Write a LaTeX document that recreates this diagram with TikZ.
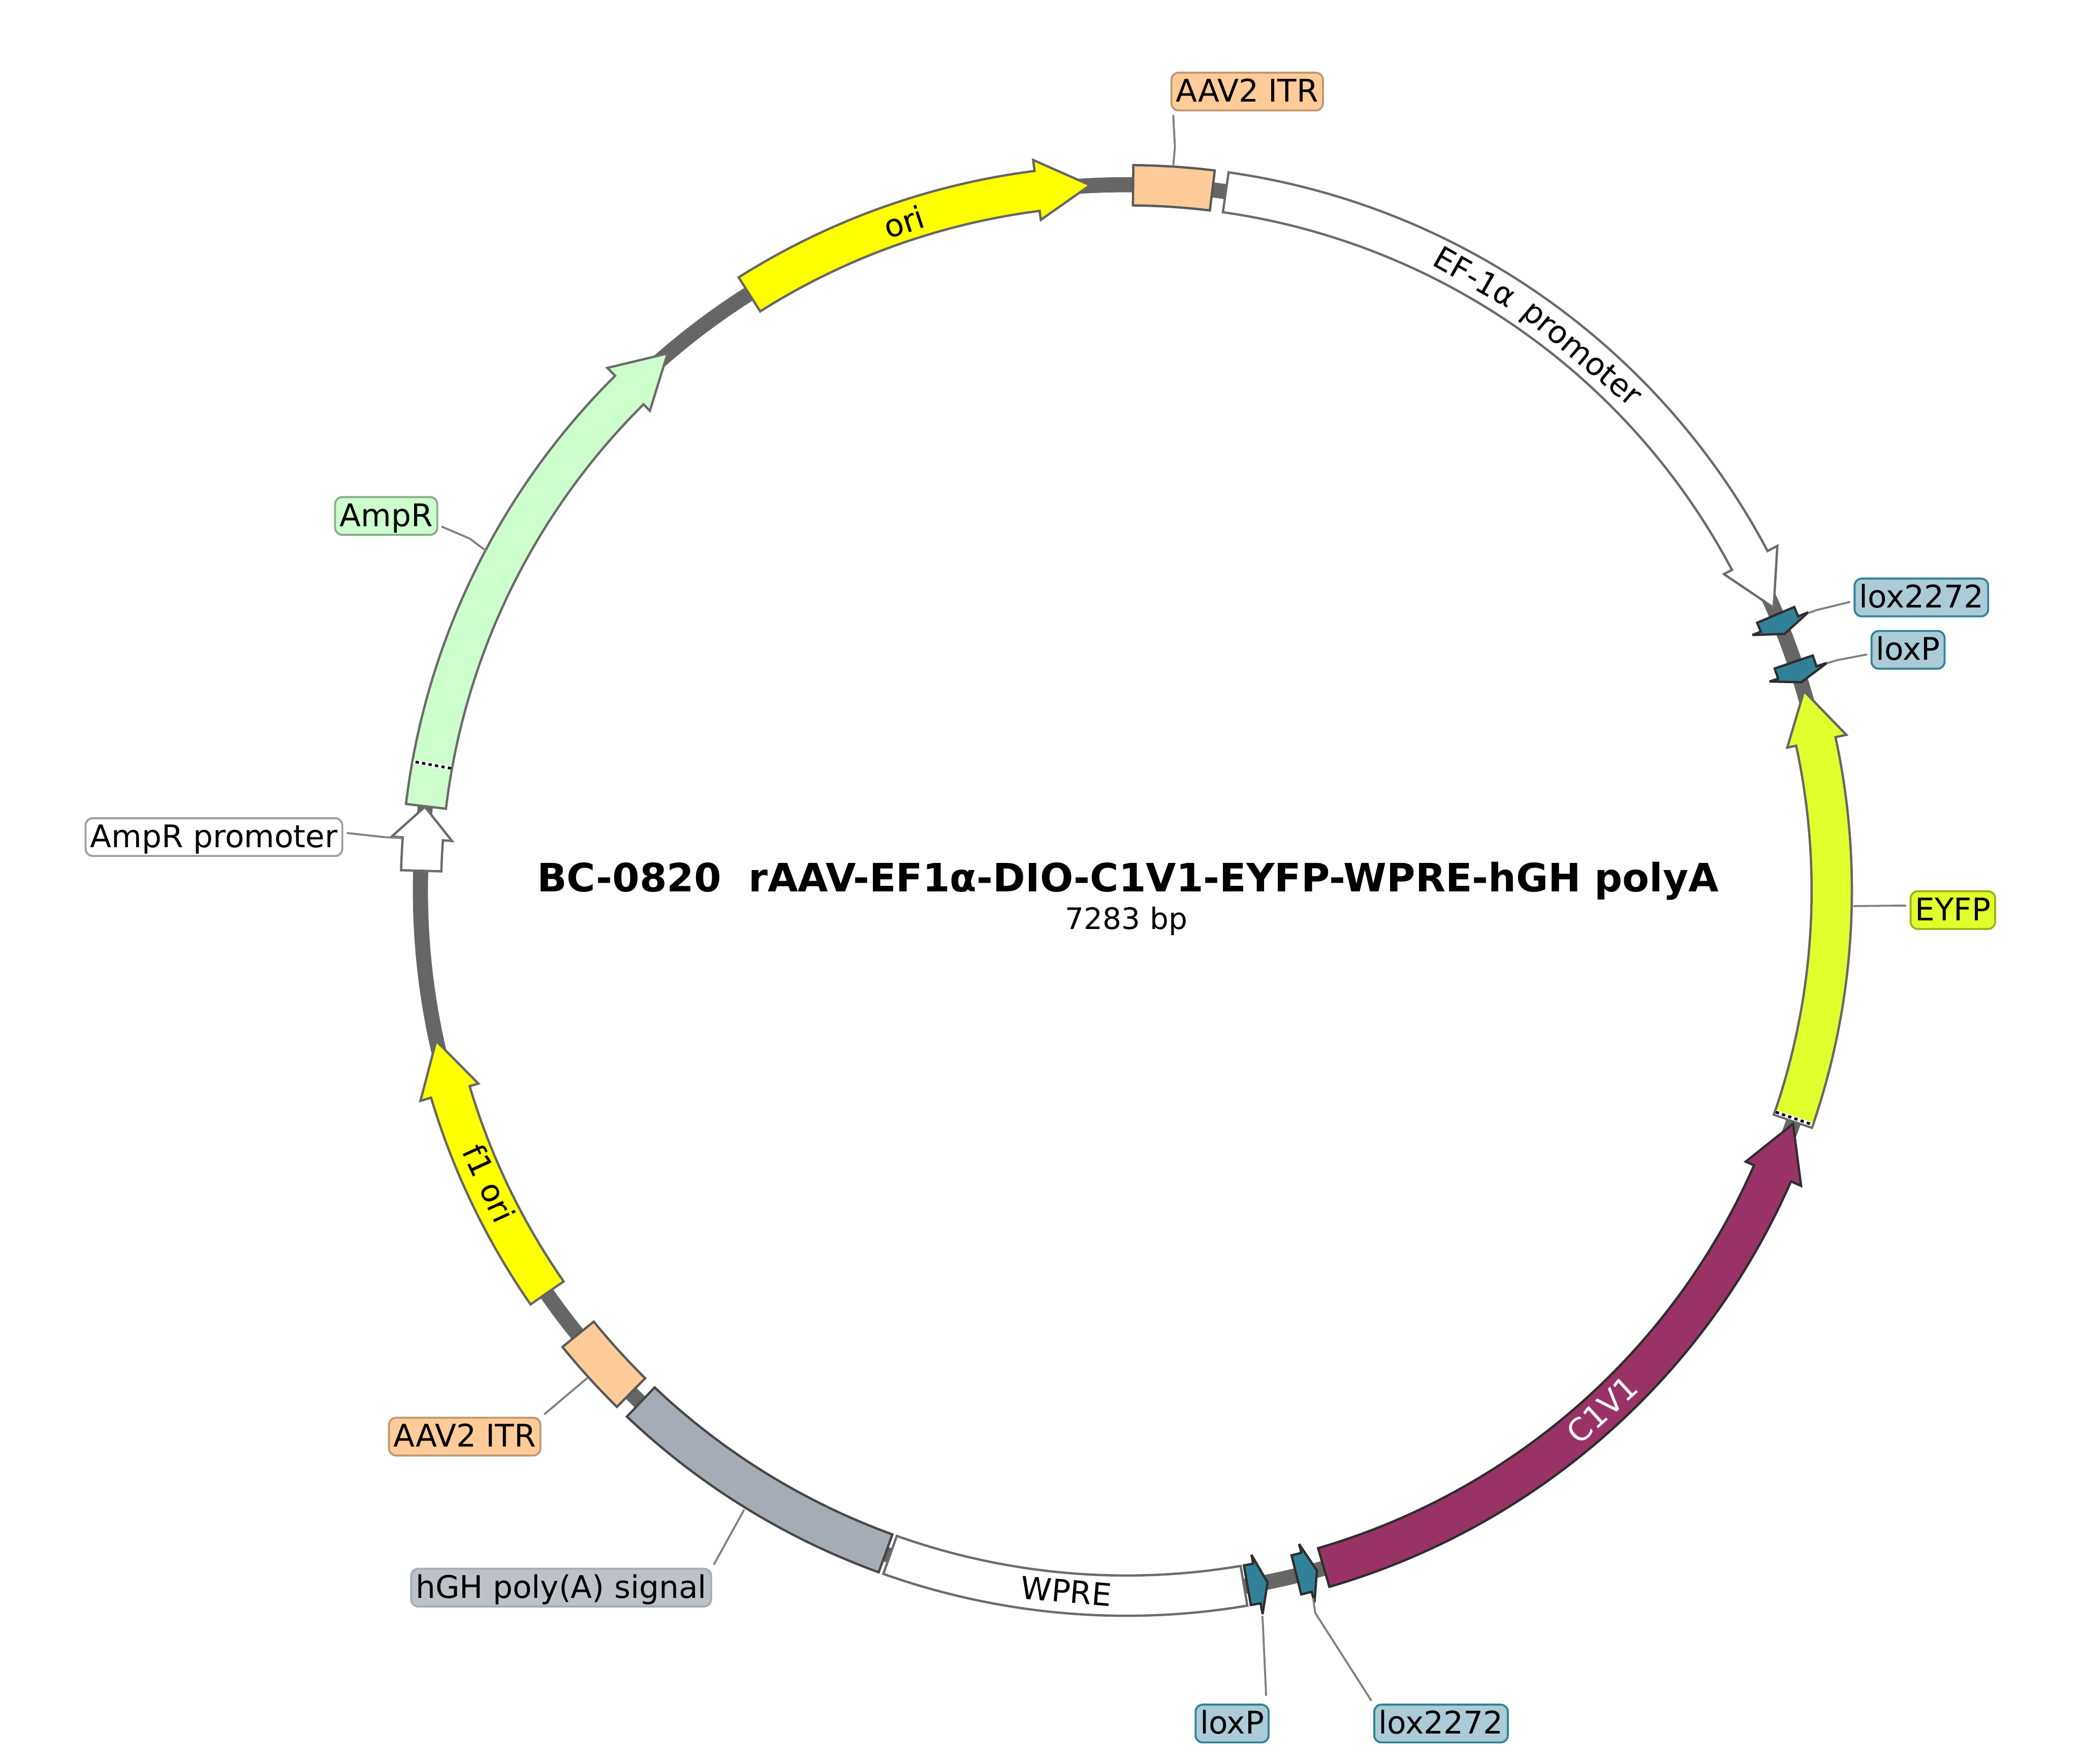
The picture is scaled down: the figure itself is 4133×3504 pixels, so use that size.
\documentclass[tikz,border=0pt]{standalone}
\usepackage{fontspec}
\usepackage{xcolor}
\usepackage{tikz}
\setmainfont{DejaVu Sans}

\definecolor{ringgray}{HTML}{666666}
\definecolor{leadergray}{HTML}{808080}
\definecolor{orifill}{RGB}{255,255,0}
\definecolor{itrfill}{HTML}{FFCC99}
\definecolor{itredge}{HTML}{BF9973}
\definecolor{loxfill}{HTML}{318299}
\definecolor{loxlabel}{HTML}{ABCCD6}
\definecolor{eyfpfill}{HTML}{E1FF2D}
\definecolor{eyfpedge}{HTML}{A0B020}
\definecolor{conefill}{HTML}{993366}
\definecolor{polyfill}{HTML}{A6ACB5}
\definecolor{polylabel}{HTML}{BDC2C9}
\definecolor{ampfill}{HTML}{CCFFCC}
\definecolor{ampedge}{HTML}{8AAD8A}

\newcommand{\labelfont}{\fontsize{17.6}{20}\selectfont}

\tikzset{
    ring/.style={draw=ringgray, line width=0.3cm},
    feature/.style 2 args={fill=#1, draw=#2, line width=1.3pt, miter limit=5},
    seamwhite/.style={draw=white, line width=2.4pt},
    seamdash/.style={draw=black, line width=1.5pt, dash pattern=on 1.85pt off 1.85pt},
    leader/.style={draw=leadergray, line width=1.1pt},
    featlabel/.style 2 args={fill=#1, draw=#2, line width=1.1pt, rounded corners=0.14cm,
        font=\labelfont, text=black, inner xsep=0.09cm, inner ysep=0.06cm,
        text height=0.52cm, text depth=0.11cm},
    arctext/.style={font=\labelfont, inner sep=0pt},
}

\newcommand{\plasmidarrow}[4]{
    \draw[#1] (#2:1441) arc[start angle=#2, end angle=#3, radius=1441] -- (#3:1463) -- (#4:1403) -- (#3:1343) -- (#3:1361) arc[start angle=#3, end angle=#2, radius=1361] -- cycle;
}
\newcommand{\plasmidbox}[3]{
    \draw[#1] (#2:1441) arc[start angle=#2, end angle=#3, radius=1441] -- (#3:1361) arc[start angle=#3, end angle=#2, radius=1361] -- cycle;
}
\newcommand{\plasmidseam}[1]{
    \draw[seamwhite] (#1:1363) -- (#1:1439);
    \draw[seamdash] (#1:1363) -- (#1:1439);
}

\begin{document}
\begin{tikzpicture}[x=0.01cm, y=0.01cm]
    \useasboundingbox (-2237, 1769) rectangle (1896, -1735);
    \draw[ring] (0, 0) circle[radius=1402];

    \plasmidarrow{feature={orifill}{ringgray}}{122.3}{97.27}{92.94}
    \plasmidbox{feature={itrfill}{black!65}}{89.45}{83.0}
    \plasmidarrow{feature={white}{black!58}}{81.9}{27.9}{23.6}
    \plasmidarrow{feature={loxfill}{black!82}}{23.0}{22.2}{21.3}
    \plasmidarrow{feature={loxfill}{black!82}}{18.9}{18.0}{17.15}
    \plasmidarrow{feature={eyfpfill}{ringgray}}{-19.1}{12.2}{16.4}
    \plasmidseam{-18.85}
    \plasmidarrow{feature={conefill}{black!82}}{-73.75}{-23.65}{-19.3}
    \plasmidarrow{feature={loxfill}{black!82}}{-76.05}{-75.2}{-74.35}
    \plasmidarrow{feature={loxfill}{black!82}}{-80.12}{-79.34}{-78.47}
    \plasmidbox{feature={white}{black!58}}{-80.4}{-109.57}
    \plasmidbox{feature={polyfill}{black!72}}{-109.96}{-133.5}
    \plasmidbox{feature={itrfill}{black!65}}{-134.6}{-141.0}
    \plasmidarrow{feature={orifill}{ringgray}}{214.8}{196.6}{192.3}
    \plasmidarrow{feature={white}{black!58}}{178.4}{175.8}{173.2}
    \plasmidarrow{feature={ampfill}{black!58}}{173.15}{134.8}{130.5}
    \plasmidseam{169.75}

    \node[arctext, rotate=18.4] (oriText) at (108.4:1400) {ori};
    \node[arctext, rotate=-65.3] (fOriText) at (204.7:1393) {f1 ori};
    \node[arctext, rotate=-4.9] (wpreText) at (-94.9:1397) {WPRE};
    \node[arctext, rotate=42.5, text=white] (coneText) at (-47.5:1399) {C1V1};
    \node[arctext, rotate=-29.6] (efText) at (60.4:1402) {EF-1α};
    \node[arctext, rotate=-40.3] (promoterText) at (49.7:1394) {promoter};

    \node[font=\fontsize{22.07}{24}\selectfont\bfseries, anchor=base] (title) at (3, -2) {BC-0820\ \ rAAV-EF1α-DIO-C1V1-EYFP-WPRE-hGH polyA};
    \node[font=\fontsize{16.7}{20}\selectfont, anchor=base] (size) at (0, -77) {7283 bp};

    \node[featlabel={itrfill}{itredge}] (itrTopLabel) at (240, 1587) {AAV2 ITR};
    \node[featlabel={loxlabel}{loxfill}] (loxTwoTopLabel) at (1579, 582) {lox2272};
    \node[featlabel={loxlabel}{loxfill}] (loxPTopLabel) at (1552.5, 478) {loxP};
    \node[featlabel={eyfpfill}{eyfpedge}] (eyfpLabel) at (1641.5, -39) {EYFP};
    \node[featlabel={loxlabel}{loxfill}] (loxPLowLabel) at (210, -1655) {loxP};
    \node[featlabel={loxlabel}{loxfill}] (loxTwoLowLabel) at (625, -1655) {lox2272};
    \node[featlabel={polylabel}{polyfill}] (polyLabel) at (-1122.5, -1385) {hGH poly(A) signal};
    \node[featlabel={itrfill}{itredge}] (itrLowLabel) at (-1314, -1085) {AAV2 ITR};
    \node[featlabel={ampfill}{ampedge}] (ampLabel) at (-1470, 744) {AmpR};
    \node[featlabel={white}{black!38}] (ampProLabel) at (-1812, 106) {AmpR promoter};

    \coordinate (itrTopBend) at (96.5, 1477);
    \coordinate (itrTopEnd) at (93, 1439);
    \coordinate (loxTwoTopBend) at (1371, 557);
    \coordinate (loxTwoTopEnd) at (1354, 551);
    \coordinate (loxPTopBend) at (1409, 457);
    \coordinate (loxPTopEnd) at (1391, 451);
    \coordinate (eyfpEnd) at (1444, -31);
    \coordinate (loxPLowBend) at (271, -1455);
    \coordinate (loxPLowEnd) at (270, -1441);
    \coordinate (loxTwoLowBend) at (375, -1435);
    \coordinate (loxTwoLowEnd) at (371, -1406);
    \coordinate (polyEnd) at (-759, -1230);
    \coordinate (itrLowEnd) at (-1070.5, -968.5);
    \coordinate (ampBend) at (-1304, 699);
    \coordinate (ampEnd) at (-1272, 675);
    \coordinate (ampProBend) at (-1475, 106);
    \coordinate (ampProEnd) at (-1437, 104);

    \draw[leader, shorten <=2pt] (itrTopLabel.195.2) -- (itrTopBend) -- (itrTopEnd);
    \draw[leader, shorten <=2pt] (loxTwoTopLabel.183) -- (loxTwoTopBend) -- (loxTwoTopEnd);
    \draw[leader, shorten <=2pt] (loxPTopLabel.186) -- (loxPTopBend) -- (loxPTopEnd);
    \draw[leader, shorten <=2pt] (eyfpLabel.174.5) -- (eyfpEnd);
    \draw[leader, shorten <=4.5pt] (loxPLowLabel.30) -- (loxPLowBend) -- (loxPLowEnd);
    \draw[leader, shorten <=2pt] (loxTwoLowLabel.north west) -- (loxTwoLowBend) -- (loxTwoLowEnd);
    \draw[leader, shorten <=2pt] (polyLabel.north east) -- (polyEnd);
    \draw[leader, shorten <=2pt] (itrLowLabel.north east) -- (itrLowEnd);
    \draw[leader, shorten <=2pt] (ampLabel.-10) -- (ampBend) -- (ampEnd);
    \draw[leader, shorten <=2pt] (ampProLabel.2) -- (ampProBend) -- (ampProEnd);
\end{tikzpicture}
\end{document}
